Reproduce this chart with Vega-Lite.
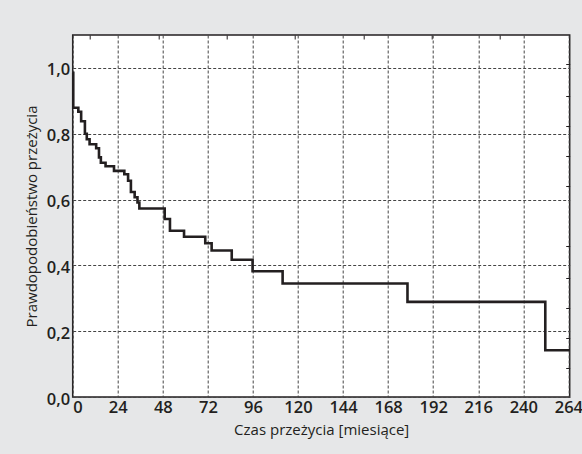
{
  "$schema": "https://vega.github.io/schema/vega-lite/v6.json",
  "width": 497,
  "height": 362,
  "autosize": "none",
  "padding": {"left": 72.7, "top": 35, "right": 12.3, "bottom": 57},
  "background": "#e6e7e8",
  "config": {
    "view": {"fill": "white", "stroke": "#231f20", "strokeWidth": 1.5},
    "font": "Open Sans",
    "axis": {
      "labelColor": "#231f20",
      "titleColor": "#231f20",
      "labelFont": "Open Sans",
      "titleFont": "Open Sans",
      "titleFontWeight": "normal",
      "domain": false
    }
  },
  "data": {
    "values": [
      {"t": 0, "s": 0.985},
      {"t": 0.3, "s": 0.879},
      {"t": 3, "s": 0.867},
      {"t": 4.5, "s": 0.838},
      {"t": 6.5, "s": 0.8},
      {"t": 7.5, "s": 0.783},
      {"t": 9, "s": 0.768},
      {"t": 12.5, "s": 0.756},
      {"t": 14, "s": 0.728},
      {"t": 15, "s": 0.712},
      {"t": 17.5, "s": 0.701},
      {"t": 22, "s": 0.687},
      {"t": 27.5, "s": 0.677},
      {"t": 29.5, "s": 0.657},
      {"t": 31, "s": 0.623},
      {"t": 33, "s": 0.607},
      {"t": 34.5, "s": 0.591},
      {"t": 35.5, "s": 0.573},
      {"t": 49, "s": 0.541},
      {"t": 51.8, "s": 0.505},
      {"t": 59.3, "s": 0.487},
      {"t": 70.6, "s": 0.467},
      {"t": 74, "s": 0.445},
      {"t": 84.7, "s": 0.417},
      {"t": 95.8, "s": 0.382},
      {"t": 111.8, "s": 0.345},
      {"t": 178.3, "s": 0.289},
      {"t": 251.7, "s": 0.142},
      {"t": 264.7, "s": 0.142}
    ]
  },
  "layer": [
    {
      "mark": {"type": "line", "interpolate": "step-after", "color": "#231f20", "strokeWidth": 2.6},
      "encoding": {
        "x": {
          "field": "t",
          "type": "quantitative",
          "scale": {"domain": [0, 264.7], "nice": false, "zero": false},
          "axis": {
            "orient": "bottom",
            "values": [0, 24, 48, 72, 96, 120, 144, 168, 192, 216, 240, 264],
            "title": "Czas przeżycia [miesiące]",
            "titleFontSize": 15,
            "titlePadding": 7,
            "labelFontSize": 16.5,
            "labelFontWeight": 600,
            "labelPadding": 2,
            "tickSize": 0,
            "grid": true,
            "gridColor": "#444444",
            "gridDash": [3, 2],
            "gridWidth": 1
          }
        },
        "y": {
          "field": "s",
          "type": "quantitative",
          "scale": {"domain": [0, 1.1], "nice": false},
          "axis": {
            "orient": "left",
            "values": [0, 0.2, 0.4, 0.6, 0.8, 1.0],
            "labelExpr": "replace(format(datum.value, '.1f'), '.', ',')",
            "title": "Prawdopodobieństwo przeżycia",
            "titleFontSize": 15,
            "titlePadding": 7,
            "labelFontSize": 16.5,
            "labelFontWeight": 600,
            "labelPadding": 3,
            "labelOffset": 2,
            "tickSize": 0,
            "grid": true,
            "gridColor": "#444444",
            "gridDash": [3, 2],
            "gridWidth": 1
          }
        }
      }
    },
    {
      "mark": {"type": "line", "interpolate": "step-after", "strokeOpacity": 0},
      "encoding": {
        "x": {
          "field": "t",
          "type": "quantitative",
          "axis": {
            "orient": "top",
            "values": [9.2, 45.6, 82, 118.4, 154.8, 191.2, 227.6],
            "labels": false,
            "tickSize": -4,
            "tickColor": "#231f20",
            "grid": false,
            "title": null
          }
        },
        "y": {
          "field": "s",
          "type": "quantitative",
          "axis": {
            "orient": "right",
            "values": [0.088, 0.179, 0.27, 0.361, 0.458, 0.641, 0.732, 0.823, 0.914, 1.011],
            "labels": false,
            "tickSize": -4,
            "tickColor": "#231f20",
            "grid": false,
            "title": null
          }
        }
      }
    }
  ],
  "resolve": {"axis": {"x": "independent", "y": "independent"}}
}
